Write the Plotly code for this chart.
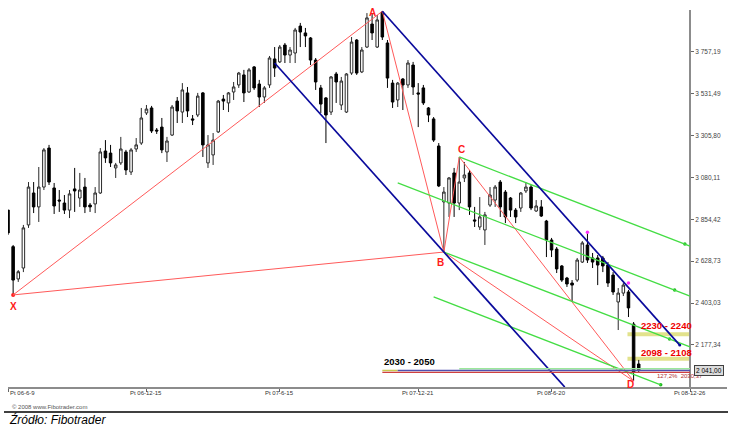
import plotly.graph_objects as go
import pandas as pd

# ---------------- data (weekly WIG20-like candles) ----------------
start_date = "2006-06-09"
n_weeks = 124
dates = pd.date_range(start_date, periods=n_weeks, freq="7D")

open_ = [2904, 2707, 2533, 2592, 2824, 2996, 2921, 3028, 3238, 3023,
         2958, 2942, 2904, 3018, 2969, 3028, 2931, 2937, 2996, 3222,
         3211, 3131, 3158, 3217, 3109, 3233, 3265, 3427, 3454, 3335,
         3351, 3217, 3308, 3491, 3432, 3535, 3395, 3416, 3535, 3158,
         3201, 3325, 3502, 3481, 3540, 3578, 3632, 3540, 3675, 3583,
         3513, 3578, 3718, 3702, 3793, 3739, 3750, 3895, 3858, 3831,
         3712, 3562, 3508, 3432, 3637, 3470, 3432, 3642, 3820, 3648,
         3782, 3906, 3782, 3971, 3804, 3588, 3497, 3610, 3578, 3685,
         3535, 3562, 3454, 3395, 3249, 2948, 2942, 3104, 2942, 3077,
         3104, 2851, 2813, 2797, 2931, 2958, 3055, 3001, 2969, 2904,
         2915, 3007, 3028, 2899, 2921, 2845, 2743, 2694, 2603, 2538,
         2511, 2527, 2624, 2716, 2646, 2646, 2646, 2608, 2554, 2409,
         2457, 2463, 2290, 2075]
high = [2904, 2716, 2581, 2824, 3055, 3055, 3136, 3238, 3255, 3050,
        3012, 2985, 3012, 3131, 3104, 3077, 2942, 3028, 3238, 3281,
        3255, 3158, 3298, 3228, 3238, 3292, 3454, 3470, 3465, 3346,
        3400, 3298, 3470, 3513, 3588, 3567, 3416, 3535, 3540, 3308,
        3319, 3497, 3524, 3540, 3594, 3648, 3659, 3669, 3680, 3605,
        3572, 3734, 3782, 3793, 3804, 3782, 3885, 3912, 3885, 3836,
        3723, 3578, 3513, 3626, 3648, 3621, 3642, 3836, 3825, 3782,
        3965, 3965, 3955, 3975, 3820, 3605, 3594, 3615, 3712, 3702,
        3588, 3578, 3459, 3405, 3265, 3028, 3082, 3131, 3190, 3163,
        3120, 2921, 2974, 2894, 3028, 3039, 3066, 3012, 2974, 2915,
        3001, 3055, 3039, 2958, 2958, 2851, 2754, 2705, 2608, 2544,
        2527, 2646, 2737, 2781, 2673, 2662, 2657, 2624, 2570, 2484,
        2511, 2474, 2301, 2097]
low = [2770, 2447, 2517, 2570, 2808, 2888, 2840, 3012, 3039, 2883,
       2894, 2883, 2861, 2894, 2921, 2888, 2894, 2888, 2991, 3158,
       3136, 3077, 3147, 3093, 3093, 3217, 3255, 3416, 3319, 3314,
       3211, 3163, 3303, 3373, 3373, 3405, 3362, 3405, 3190, 3131,
       3147, 3319, 3443, 3432, 3497, 3562, 3486, 3535, 3551, 3459,
       3481, 3562, 3621, 3696, 3696, 3696, 3696, 3782, 3782, 3685,
       3551, 3427, 3265, 3416, 3481, 3443, 3427, 3632, 3632, 3642,
       3777, 3820, 3777, 3820, 3562, 3454, 3459, 3443, 3562, 3524,
       3351, 3470, 3378, 3271, 3028, 2678, 2867, 2867, 2904, 3055,
       2878, 2813, 2797, 2716, 2921, 2921, 2867, 2834, 2867, 2834,
       2894, 2996, 2904, 2894, 2867, 2651, 2651, 2565, 2517, 2490,
       2409, 2517, 2619, 2619, 2592, 2500, 2570, 2490, 2447, 2258,
       2441, 2328, 1983, 2032]
close = [2781, 2527, 2572, 2808, 3028, 2921, 3028, 3228, 3055, 2926,
         2953, 2904, 2991, 3007, 3012, 2921, 2921, 2996, 3217, 3185,
         3158, 3147, 3233, 3120, 3228, 3255, 3400, 3448, 3330, 3330,
         3228, 3276, 3459, 3438, 3551, 3438, 3389, 3518, 3255, 3255,
         3281, 3491, 3491, 3535, 3567, 3642, 3535, 3659, 3562, 3513,
         3562, 3723, 3669, 3782, 3739, 3766, 3874, 3863, 3842, 3712,
         3594, 3475, 3416, 3621, 3594, 3599, 3637, 3809, 3642, 3766,
         3939, 3858, 3928, 3836, 3615, 3486, 3588, 3578, 3696, 3567,
         3529, 3481, 3416, 3281, 3034, 3001, 3077, 2942, 3055, 3093,
         2921, 2845, 2867, 2878, 2985, 3028, 2921, 2867, 2904, 2867,
         2996, 3028, 2915, 2926, 2872, 2743, 2689, 2587, 2527, 2506,
         2500, 2635, 2727, 2635, 2624, 2608, 2603, 2511, 2463, 2457,
         2500, 2377, 2032, 2041]

# axis ticks
x_tick_dates = ["2006-06-09", "2006-12-15", "2007-06-15", "2007-12-21", "2008-06-20", "2008-12-26"]
x_tick_text = ["Pt 06-6-9", "Pt 06-12-15", "Pt 07-6-15", "Pt 07-12-21", "Pt 08-6-20", "Pt 08-12-26"]
y_tick_vals = [3757.19, 3531.49, 3305.80, 3080.11, 2854.42, 2628.73, 2403.03, 2177.34]
y_tick_text = ["3 757,19", "3 531,49", "3 305,80", "3 080,11", "2 854,42", "2 628,73", "2 403,03", "2 177,34"]
last_price = 2041.00
last_price_text = "2 041,00"

# XABCD pattern pivots (candle index, uses lows/highs)
pivot_names = ["X", "A", "B", "C", "D"]
pivot_idx = [1, 73, 85, 88, 122]
pivot_kind = ["low", "high", "low", "high", "low"]
pivot_label_pos = [("2006-06-17", 2387), ("2007-10-20", 3966), ("2008-01-20", 2624),
                   ("2008-02-18", 3228), ("2008-10-06", 1967)]
red_pairs = [("X", "A"), ("X", "B"), ("A", "B"), ("B", "C"), ("C", "D"), ("B", "D")]

# trend channel lines (date, price)
blue_lines = [(("2007-06-08", 3696), ("2008-07-08", 1951)),
              (("2007-11-02", 3975), ("2008-12-12", 2177))]
green_lines = [(("2008-02-15", 3190), ("2008-12-26", 2710)),
               (("2007-11-23", 3050), ("2008-12-26", 2441)),
               (("2008-01-25", 2678), ("2008-12-26", 2167)),
               (("2008-01-11", 2436), ("2008-11-16", 1963))]
green_dots_x = ["2008-12-19", "2008-12-05", "2008-11-28", "2008-11-16"]
green_dots_y = [2721, 2473, 2210, 1963]
magenta_x = ["2008-08-08", "2008-10-03"]
magenta_y = [2785, 2511]

# target zones
zones = [(2230, 2240, "2230 - 2240", 2280), (2098, 2108, "2098 - 2108", 2138)]
zone_x0, zone_x1 = "2008-10-03", "2008-12-26"
zone_label_x = "2008-10-18"
final_zone_low, final_zone_high = 2030, 2050
final_zone_text = "2030 - 2050"

FONT = "Liberation Sans, Arial, sans-serif"

fig = go.Figure()
fig.add_trace(go.Candlestick(
    x=dates, open=open_, high=high, low=low, close=close,
    increasing=dict(fillcolor="white", line=dict(color="#2a2a2a", width=1)),
    decreasing=dict(fillcolor="black", line=dict(color="black", width=1)),
    whiskerwidth=0, hoverinfo="skip", showlegend=False))

shapes = []
# yellow target zones (below candles)
for lo, hi, _, _ in zones:
    shapes.append(dict(type="rect", xref="x", yref="y", x0=zone_x0, x1=zone_x1, y0=lo, y1=hi,
                       fillcolor="#ffff9c", line=dict(color="#e2e28c", width=2), layer="below"))

pts = {}
for nm, i, kind in zip(pivot_names, pivot_idx, pivot_kind):
    pts[nm] = (dates[i], low[i] if kind == "low" else high[i])

for a, b in red_pairs:
    shapes.append(dict(type="line", xref="x", yref="y", x0=pts[a][0], y0=pts[a][1],
                       x1=pts[b][0], y1=pts[b][1], line=dict(color="#ff5a5a", width=1)))
for (p0, p1) in green_lines:
    shapes.append(dict(type="line", xref="x", yref="y", x0=p0[0], y0=p0[1], x1=p1[0], y1=p1[1],
                       line=dict(color="#44dd44", width=1.3)))
for (p0, p1) in blue_lines:
    shapes.append(dict(type="line", xref="x", yref="y", x0=p0[0], y0=p0[1], x1=p1[0], y1=p1[1],
                       line=dict(color="#0a0a9c", width=1.7)))

# final zone horizontal lines
shapes.append(dict(type="line", xref="x", yref="y", x0="2008-02-15", x1="2008-12-26",
                   y0=final_zone_high, y1=final_zone_high, line=dict(color="#9be89b", width=1.5)))
shapes.append(dict(type="line", xref="x", yref="y", x0="2007-11-02", x1="2007-11-23",
                   y0=2040, y1=2040, line=dict(color="#c8c850", width=1.5)))
shapes.append(dict(type="line", xref="x", yref="y", x0="2007-11-23", x1="2008-12-26",
                   y0=2040, y1=2040, line=dict(color="#5050b0", width=1.5)))
shapes.append(dict(type="line", xref="x", yref="y", x0="2007-11-02", x1="2008-12-26",
                   y0=final_zone_low, y1=final_zone_low, line=dict(color="#d04040", width=1.2)))

# bottom separator line
shapes.append(dict(type="line", xref="paper", yref="paper", x0=-0.0056, x1=1.0014,
                   y0=-0.0663, y1=-0.0663, line=dict(color="black", width=1.5)))
fig.update_layout(shapes=shapes)

# markers
fig.add_trace(go.Scatter(x=green_dots_x, y=green_dots_y, mode="markers",
                         marker=dict(color="#22bb22", size=3.5), hoverinfo="skip", showlegend=False))
fig.add_trace(go.Scatter(x=magenta_x, y=magenta_y, mode="markers",
                         marker=dict(color="#ff33ff", size=3.5), hoverinfo="skip", showlegend=False))
fig.add_trace(go.Scatter(x=[pts["X"][0]], y=[pts["X"][1]], mode="markers",
                         marker=dict(color="#ff2020", size=4), hoverinfo="skip", showlegend=False))
fig.add_trace(go.Scatter(x=[blue_lines[1][1][0]], y=[blue_lines[1][1][1]], mode="markers",
                         marker=dict(color="#0a0a9c", size=3), hoverinfo="skip", showlegend=False))

ann = []
for nm, (lx, ly) in zip(pivot_names, pivot_label_pos):
    ann.append(dict(x=lx, y=ly, xref="x", yref="y", text="<b>%s</b>" % nm, showarrow=False,
                    font=dict(family=FONT, size=10, color="#ff1a1a"), xanchor="center", yanchor="middle"))
for lo, hi, txt, ly in zones:
    ann.append(dict(x=zone_label_x, y=ly, xref="x", yref="y", text="<b>%s</b>" % txt, showarrow=False,
                    font=dict(family=FONT, size=9.5, color="#ee0000"), xanchor="left", yanchor="middle"))
ann.append(dict(x="2007-11-02", y=2091, xref="x", yref="y", text="<b>%s</b>" % final_zone_text,
                showarrow=False, font=dict(family=FONT, size=9.5, color="black"),
                xanchor="left", yanchor="middle"))
ann.append(dict(x="2008-11-08", y=2010, xref="x", yref="y", text="127,2%  2030,37", showarrow=False,
                font=dict(family=FONT, size=6, color="#b03030"), xanchor="left", yanchor="middle"))
# x tick labels
for i, (d, t) in enumerate(zip(x_tick_dates, x_tick_text)):
    ann.append(dict(x=d, y=-0.0167, xref="x", yref="paper", text=t, showarrow=False,
                    font=dict(family=FONT, size=6, color="#333"),
                    xanchor="left" if i == 0 else "center", yanchor="middle"))
# last price box
ann.append(dict(x=0.9541, y=last_price, xref="paper", yref="y", text=last_price_text, showarrow=False,
                font=dict(family=FONT, size=6.5, color="black"), xanchor="left", yanchor="middle",
                bgcolor="#dcdcdc", bordercolor="#404040", borderwidth=1, borderpad=1))
ann.append(dict(x=0.003, y=-0.053, xref="paper", yref="paper", text="© 2008 www.Fibotrader.com",
                showarrow=False, font=dict(family=FONT, size=6, color="#555"),
                xanchor="left", yanchor="middle"))
ann.append(dict(x=-0.0014, y=-0.0849, xref="paper", yref="paper", text="<i>Źródło: Fibotrader</i>",
                showarrow=False, font=dict(family=FONT, size=12, color="black"),
                xanchor="left", yanchor="middle"))

fig.update_layout(
    width=739, height=433,
    margin=dict(l=8, r=12, t=10, b=46),
    paper_bgcolor="white", plot_bgcolor="white",
    annotations=ann,
    showlegend=False,
    xaxis=dict(type="date", range=["2006-06-09", "2009-02-14 12:00"], domain=[0, 1],
               showline=True, linecolor="#8c8c8c", linewidth=2, ticks="outside", ticklen=3,
               tickcolor="#666", tickvals=x_tick_dates, showticklabels=False,
               showgrid=False, zeroline=False, rangeslider=dict(visible=False), fixedrange=True),
    yaxis=dict(range=[1951.1, 3981.6], anchor="free", position=0.9485, side="right",
               showline=True, linecolor="#8c8c8c", linewidth=2, ticks="outside", ticklen=3,
               tickcolor="#666", tickvals=y_tick_vals, ticktext=y_tick_text,
               tickfont=dict(family=FONT, size=6.5, color="#444"),
               showgrid=False, zeroline=False, fixedrange=True),
)

fig.write_html("out.html", config={"displayModeBar": False},
               post_script="document.body.style.margin='0';document.body.style.overflow='hidden';")
